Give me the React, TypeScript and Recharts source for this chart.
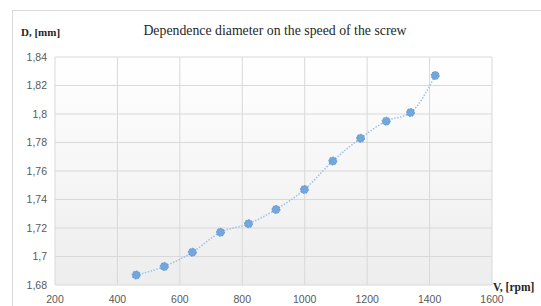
import React from "react";
import { LineChart, Line, XAxis, YAxis, CartesianGrid } from "recharts";

// speed of the screw, rpm
const speeds = [460, 550, 640, 730, 820, 908, 999, 1090, 1179, 1261, 1339, 1418];
// diameter, mm
const diameters = [1.687, 1.693, 1.703, 1.717, 1.723, 1.733, 1.747, 1.767, 1.783, 1.795, 1.801, 1.827];

const xTicks = [200, 400, 600, 800, 1000, 1200, 1400, 1600];
const yTicks = [1.68, 1.7, 1.72, 1.74, 1.76, 1.78, 1.8, 1.82, 1.84];

const data = speeds.map((v, i) => ({ v, d: diameters[i] }));

const tickStyle = { fill: "#595959", fontSize: 10.5, fontFamily: "'Liberation Sans', sans-serif" };
const serif = "'Liberation Serif', 'DejaVu Serif', serif";

// 1.70 -> "1,7", 1.84 -> "1,84"
const fmtY = (n: number) => String(parseFloat(n.toFixed(2))).replace(".", ",");

const App: React.FC = () => (
  <div style={{ position: "absolute", left: 0, top: 0, width: 541, height: 306, overflow: "hidden", background: "#fff" }}>
    <div style={{ position: "absolute", left: 12, top: 10, width: 700, height: 400, border: "1px solid #d9d9d9" }} />
    <LineChart width={541} height={306} data={data} margin={{ top: 57, right: 49, left: 0, bottom: 1 }}>
      <defs>
        <linearGradient id="plotBg" x1="0" y1="0" x2="0" y2="1">
          <stop offset="0%" stopColor="#ffffff" />
          <stop offset="100%" stopColor="#ededed" />
        </linearGradient>
      </defs>
      <CartesianGrid stroke="#d9d9d9" fill="url(#plotBg)" />
      <XAxis
        type="number" dataKey="v" domain={[200, 1600]} ticks={xTicks}
        axisLine={false} tickLine={false} tick={tickStyle} tickMargin={5} height={20}
        interval={0}
      />
      <YAxis
        type="number" domain={[1.68, 1.84]} ticks={yTicks} tickFormatter={fmtY}
        axisLine={false} tickLine={false} tick={tickStyle} width={55} interval={0}
      />
      <Line
        type="monotone" dataKey="d" stroke="#9dc3e6" strokeWidth={1.5} strokeDasharray="1.5 1.5"
        dot={{ r: 4, fill: "#72a6dc", stroke: "#5b94d0", strokeWidth: 1 }}
        isAnimationActive={false}
      />
    </LineChart>
    <div style={{ position: "absolute", left: 0, width: 550, top: 23, textAlign: "center", fontFamily: serif, fontSize: 13.8, color: "#262626" }}>
      Dependence diameter on the speed of the screw
    </div>
    <div style={{ position: "absolute", left: 21, top: 26, fontFamily: serif, fontSize: 11, fontWeight: "bold", color: "#262626" }}>
      D, [mm]
    </div>
    <div style={{ position: "absolute", left: 493, top: 281, fontFamily: serif, fontSize: 11.5, fontWeight: "bold", color: "#262626" }}>
      V, [rpm]
    </div>
  </div>
);

export default App;
